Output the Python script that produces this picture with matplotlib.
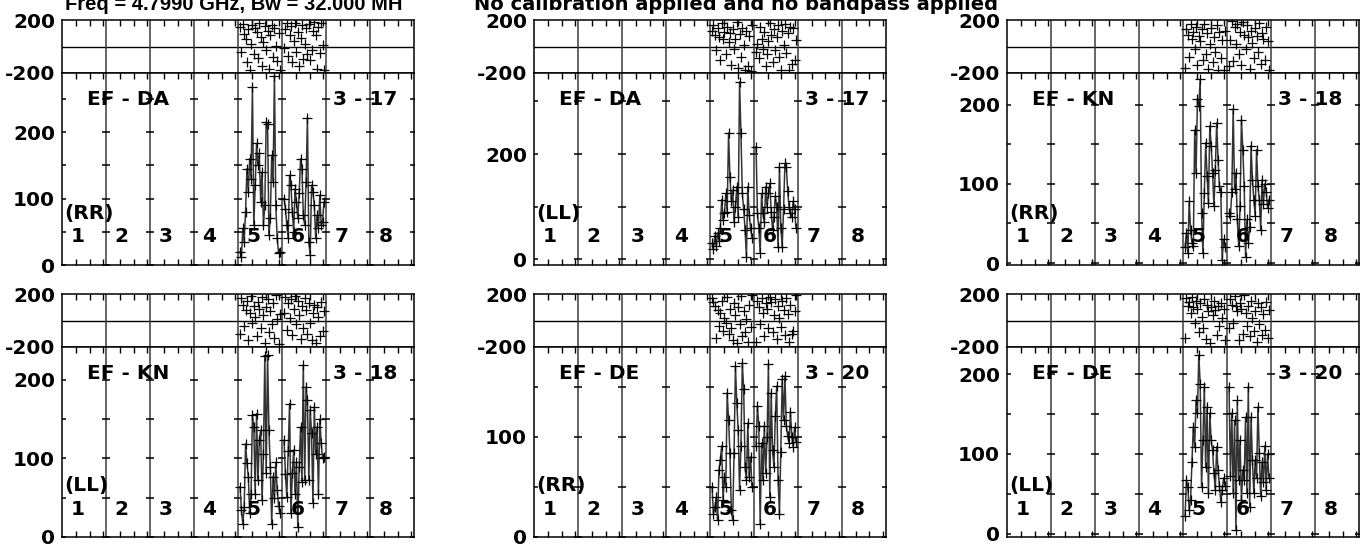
import numpy as np
import matplotlib
matplotlib.use("Agg")
import matplotlib.pyplot as plt

plt.rcParams["font.family"] = "DejaVu Sans"
plt.rcParams["font.weight"] = "bold"
FS = 14.5

N_IF, N_CHAN = 8, 32
CHANNELS = np.arange(2, 32)          # channels plotted in each IF
IF_LABELS = ["1", "2", "3", "4", "5", "6", "7", "8"]

# panels, row by row
BASELINES = ["EF - DA", "EF - DA", "EF - KN", "EF - KN", "EF - DE", "EF - DE"]
ANT_NUMS = ["3 - 17", "3 - 17", "3 - 18", "3 - 18", "3 - 20", "3 - 20"]
STOKES = ["(RR)", "(LL)", "(RR)", "(LL)", "(RR)", "(LL)"]

# amplitude per channel, IF 5 and IF 6
AMP_IF5 = [
    [20, 12, 55, 35, 80, 145, 110, 160, 130, 268, 60, 120, 183, 150, 168, 95, 140, 60, 90, 215, 212, 45, 70, 165, 125, 285, 90, 40, 18, 20],
    [30, 20, 45, 25, 50, 35, 60, 113, 75, 87, 125, 90, 240, 157, 110, 132, 70, 100, 138, 80, 337, 240, 125, 95, 56, 5, 138, 85, 60, 40],
    [20, 38, 13, 78, 42, 25, 21, 168, 114, 207, 198, 232, 63, 13, 89, 152, 110, 76, 173, 148, 114, 72, 118, 177, 130, 97, 90, 4, 30, 20],
    [64, 34, 17, 38, 119, 94, 77, 30, 55, 155, 140, 55, 157, 72, 123, 136, 47, 106, 230, 81, 232, 136, 89, 17, 77, 50, 95, 60, 40, 30],
    [50, 23, 30, 40, 17, 67, 77, 91, 37, 60, 50, 144, 117, 84, 27, 17, 84, 171, 134, 107, 47, 91, 174, 148, 70, 57, 114, 60, 80, 50],
    [22, 67, 59, 30, 42, 90, 134, 109, 167, 151, 224, 188, 59, 117, 184, 84, 159, 51, 151, 117, 105, 76, 55, 109, 80, 60, 40, 55, 70, 60],
]
AMP_IF6 = [
    [100, 85, 60, 40, 135, 120, 80, 50, 115, 95, 70, 108, 160, 145, 75, 60, 125, 222, 35, 15, 120, 110, 90, 40, 75, 55, 105, 60, 65, 95],
    [214, 87, 60, 11, 125, 87, 70, 138, 100, 125, 144, 90, 56, 80, 120, 100, 24, 176, 60, 24, 95, 182, 176, 130, 100, 87, 80, 110, 95, 60],
    [63, 59, 90, 194, 93, 114, 55, 21, 72, 181, 143, 97, 8, 55, 25, 46, 148, 105, 80, 60, 143, 97, 80, 42, 105, 75, 100, 90, 70, 80],
    [123, 80, 51, 110, 170, 30, 81, 111, 55, 95, 13, 89, 140, 70, 219, 72, 191, 174, 72, 162, 132, 43, 166, 106, 140, 55, 150, 120, 100, 102],
    [91, 131, 111, 13, 94, 57, 111, 64, 100, 173, 40, 144, 87, 70, 121, 151, 57, 23, 85, 158, 117, 161, 111, 101, 94, 125, 100, 90, 110, 95],
    [184, 72, 151, 51, 142, 5, 167, 67, 117, 42, 80, 67, 146, 51, 184, 34, 146, 92, 51, 92, 70, 159, 101, 47, 90, 65, 110, 55, 100, 70],
]
# phase (degrees) per channel, IF 5 and IF 6
PH_IF5 = [
    [150, -40, 170, 95, 60, -120, 130, -175, 20, 160, -60, 140, 110, -90, 180, 75, -150, 35, 155, -30, 120, -170, 85, 165, -80, 140, 5, -110, 100, -180],
    [120, 160, 90, -30, 140, 75, -100, 175, 55, 110, -60, 150, 35, 100, -140, 130, -20, 60, 185, -160, 95, -80, 140, 15, -175, 120, -150, 80, -185, 165],
    [-160, 130, 90, -80, 170, 60, 110, -20, 150, -140, 80, 40, 130, -100, 170, -60, 100, -170, 20, 140, -120, 70, -40, 160, -180, 110, -90, 50, -175, 120],
    [-100, 170, 120, -40, 80, 150, -150, 60, 185, -20, 110, 30, -120, 140, 90, -60, 175, 40, -170, 100, 160, -90, 70, -30, 130, -130, 190, 10, -180, 50],
    [170, 140, 110, -130, 80, -40, 60, 150, -80, 20, -20, 175, -100, 90, -60, -150, 130, 40, -170, 100, -30, 185, -120, 70, -90, 10, -160, 120, -50, 190],
    [-130, 170, 110, 140, 60, 180, 100, -20, 150, 90, -90, 130, 30, -60, 160, -140, 120, 70, -170, 100, 40, 150, 80, -110, 110, -40, 130, 20, 90, -150],
]
PH_IF6 = [
    [-10, 130, 175, -70, 90, 155, -120, 40, 180, -40, 110, -150, 65, 160, -95, 20, 140, -60, 170, -100, -30, 120, 185, 90, -170, 150, -50, 175, 10, -180],
    [-40, 20, -90, 150, 60, -20, 110, -150, -60, 40, 180, 90, -120, 130, -30, 70, 160, -80, -175, 120, 10, 170, -50, 100, -180, 150, -130, 140, -100, 50],
    [-150, 50, 190, -110, 150, 20, 170, -60, 110, -140, 185, 90, -20, 160, 70, -170, 120, 30, -90, 140, 80, -40, 175, -130, 100, 60, -100, 150, 40, -180],
    [60, 175, -70, 130, 20, 160, -110, 90, 185, -30, 150, 40, -140, 110, -60, 170, 80, -100, 130, -20, -150, 60, 120, -170, 100, 30, -120, 140, -80, 70],
    [-160, 150, 100, -30, 170, 60, -120, 130, 90, -60, 180, 140, -90, 40, 160, -140, 110, 20, -50, 150, 80, -110, 170, 50, -160, 120, -100, -80, 70, 195],
    [-60, 160, 120, -20, 185, 110, 70, -150, 130, 90, -100, 190, 60, -40, 110, -120, 150, 20, -80, 70, -160, 130, -30, 100, -110, 50, -70, 140, -130, 80],
]

AMP_LIM = [(0, 289), (-11, 354), (-2.5, 240), (0, 242), (0, 190), (-4, 234)]
AMP_STEP = [50, 100, 50, 50, 50, 50]
AMP_LABELS = [[0, 100, 200], [0, 200], [0, 100, 200], [0, 100, 200], [0, 100], [0, 100, 200]]

W, H = 1367, 547
COL_LEFT = [62, 534, 1007]
COL_W = 352
ROWS = [(20, 73, 265), (294, 347, 537)]   # phase top, split, amp bottom (pixels)

fig = plt.figure(figsize=(W / 100, H / 100), dpi=100)

def chan_x(if_num):
    return (if_num - 1) + (CHANNELS - 0.5) / N_CHAN

xt = [k + c / N_CHAN for k in range(N_IF) for c in (10, 20, 30)]

for i in range(6):
    r, c = divmod(i, 3)
    top, mid, bot = ROWS[r]
    x0 = COL_LEFT[c] / W
    axp = fig.add_axes([x0, 1 - mid / H, COL_W / W, (mid - top) / H])
    axa = fig.add_axes([x0, 1 - bot / H, COL_W / W, (bot - mid) / H])

    # phase
    axp.set_xlim(0, N_IF); axp.set_ylim(-200, 200)
    axp.axhline(0, color="k", lw=1)
    for ax in (axp, axa):
        for k in range(1, N_IF):
            ax.axvline(k, color="#3a3a3a", lw=1.1)
        for s in ax.spines.values():
            s.set_linewidth(1.1)
        ax.set_xticks(xt)
        ax.tick_params(axis="x", direction="in", length=4, width=1, labelbottom=False)
        ax.tick_params(axis="y", length=0, pad=5, labelsize=FS)
    axp.tick_params(axis="x", top=True, bottom=False)
    axa.tick_params(axis="x", top=True, bottom=True)
    axp.set_yticks([-200, 200], ["-200", "200"])
    for lab in axp.get_yticklabels():
        lab.set_fontweight("bold")
    axp.plot(chan_x(5), PH_IF5[i], "+", color="k", ms=7.5, mew=0.9)
    axp.plot(chan_x(6), PH_IF6[i], "+", color="k", ms=7.5, mew=0.9)

    # amplitude
    lo, hi = AMP_LIM[i]
    axa.set_xlim(0, N_IF); axa.set_ylim(lo, hi)
    axa.set_yticks(AMP_LABELS[i], [str(v) for v in AMP_LABELS[i]])
    for lab in axa.get_yticklabels():
        lab.set_fontweight("bold")
    marks = np.arange(0, hi, AMP_STEP[i])
    for k in range(N_IF + 1):
        axa.plot(np.full(len(marks), k), marks, "_", color="k", ms=6, mew=1.1)
    for if_num, amps in ((5, AMP_IF5[i]), (6, AMP_IF6[i])):
        axa.plot(chan_x(if_num), amps, "-", color="#333333", lw=1.1)
        axa.plot(chan_x(if_num), amps, "+", color="k", ms=7.5, mew=0.9)

    axa.text(0.07, 0.86, BASELINES[i], transform=axa.transAxes, fontsize=FS,
             fontweight="bold", va="center", ha="left")
    axa.text(0.77, 0.86, ANT_NUMS[i], transform=axa.transAxes, fontsize=FS,
             fontweight="bold", va="center", ha="left")
    axa.text(0.005, 0.27, STOKES[i], transform=axa.transAxes, fontsize=FS,
             fontweight="bold", va="center", ha="left")
    for k, lab in enumerate(IF_LABELS):
        axa.text(k + 0.35, 0.146, lab, transform=axa.get_xaxis_transform(),
                 fontsize=FS, fontweight="bold", va="center", ha="center")

fig.text(65 / W, 1 - 10 / H, "Freq = 4.7990 GHz, Bw = 32.000 MH",
         family="Liberation Sans", fontsize=FS, fontweight="bold",
         va="baseline", ha="left")
fig.text(474 / W, 1 - 10 / H, "No calibration applied and no bandpass applied",
         fontsize=14, fontweight="bold", va="baseline", ha="left")

fig.savefig("out.png", dpi=100)
